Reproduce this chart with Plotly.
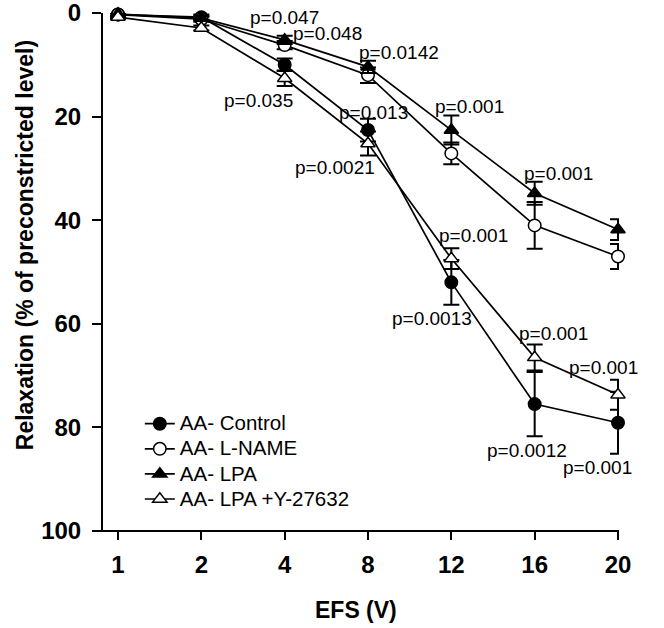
import plotly.graph_objects as go

x_labels = ["1", "2", "4", "8", "12", "16", "20"]
x_pos = list(range(len(x_labels)))

control = [0.3, 0.8, 10.0, 22.6, 52.0, 75.5, 79.1]
control_err = [0.4, 0.5, 1.2, 2.2, 4.3, 6.2, 6.0]
lname = [0.3, 1.2, 6.2, 12.0, 27.1, 41.0, 47.0]
lname_err = [0.3, 0.5, 0.8, 1.5, 2.1, 4.5, 2.4]
lpa = [0.2, 1.0, 5.2, 10.4, 22.6, 34.8, 41.8]
lpa_err = [0.3, 0.4, 0.8, 1.2, 2.8, 2.2, 2.0]
lpay = [0.8, 2.9, 12.6, 25.2, 47.4, 66.5, 73.7]
lpay_err = [0.3, 0.5, 1.5, 2.3, 2.0, 2.5, 2.9]

p_texts = ["p=0.047", "p=0.048", "p=0.035", "p=0.0142", "p=0.013", "p=0.0021",
           "p=0.001", "p=0.001", "p=0.001", "p=0.001", "p=0.0013", "p=0.001",
           "p=0.001", "p=0.0012", "p=0.001"]
p_x = [2.0, 2.51, 1.68, 3.37, 3.06, 2.6, 4.22, 5.28, 6.10, 4.26, 3.77, 5.22, 5.82, 4.91, 5.75]
p_y = [0.8, 3.9, 16.8, 7.7, 19.3, 29.9, 18.1, 30.9, 38.2, 42.9, 58.9, 61.8, 68.5, 84.4, 87.8]

FONT = "Liberation Sans, Arial, sans-serif"

series = [
    ("AA- Control", control, control_err, "circle", "black"),
    ("AA- L-NAME", lname, lname_err, "circle", "white"),
    ("AA- LPA", lpa, lpa_err, "triangle-up", "black"),
    ("AA- LPA +Y-27632", lpay, lpay_err, "triangle-up", "white"),
]

fig = go.Figure()
for name, vals, errs, sym, fill in series:
    fig.add_trace(go.Scatter(
        x=x_pos, y=vals, name='<span style="font-size:20.5px">' + name + '</span>',
        mode="lines+markers",
        line=dict(color="black", width=1.7),
        marker=dict(symbol=sym, size=12.5, color=fill, line=dict(color="black", width=1.5)),
        error_y=dict(type="data", array=errs, visible=True, color="black", thickness=2, width=8),
        cliponaxis=False,
    ))

for t, xx, yy in zip(p_texts, p_x, p_y):
    fig.add_annotation(x=xx, y=yy, text=t, showarrow=False,
                       font=dict(family=FONT, size=19, color="black"),
                       xanchor="center", yanchor="middle")

# axis titles
fig.add_annotation(xref="paper", yref="paper", x=-0.129, y=0.552, textangle=-90,
                   text="Relaxation (% of preconstricted level)", showarrow=False,
                   font=dict(family=FONT, size=23, weight="bold", color="black"),
                   xanchor="center", yanchor="middle")
fig.add_annotation(xref="paper", yref="paper", x=0.5, y=-0.1525,
                   text="EFS (V)", showarrow=False,
                   font=dict(family=FONT, size=23, weight="bold", color="black"),
                   xanchor="center", yanchor="middle")

# x axis line extended to the left beyond the y axis
fig.add_shape(type="line", xref="paper", yref="paper", x0=0, x1=1, y0=0, y1=0,
              line=dict(color="black", width=2))

fig.update_layout(
    width=664, height=628,
    margin=dict(l=93, r=45, t=13, b=97, autoexpand=False),
    plot_bgcolor="white", paper_bgcolor="white",
    font=dict(family=FONT, color="black"),
    showlegend=True,
    legend=dict(x=0.089, y=0.241, xanchor="left", yanchor="top",
                font=dict(family=FONT, size=17, color="black"),
                bgcolor="rgba(0,0,0,0)", tracegroupgap=0),
    xaxis=dict(
        range=[-0.3, 6.012], tickmode="array", tickvals=x_pos, ticktext=x_labels,
        showgrid=False, zeroline=False, showline=False, automargin=False,
        ticks="outside", ticklen=8, tickwidth=2, tickcolor="black",
        ticklabelstandoff=4, ticklabeloverflow="allow",
        tickfont=dict(family=FONT, size=24, weight="bold"),
    ),
    yaxis=dict(
        range=[100, 0], tickvals=[0, 20, 40, 60, 80, 100],
        anchor="free", position=9 / 526, automargin=False,
        showgrid=False, zeroline=False, showline=True, linecolor="black", linewidth=2,
        ticks="outside", ticklen=9, tickwidth=2, tickcolor="black",
        ticklabelstandoff=6, ticklabeloverflow="allow",
        tickfont=dict(family=FONT, size=24, weight="bold"),
    ),
)

fig.write_html("out.html")
